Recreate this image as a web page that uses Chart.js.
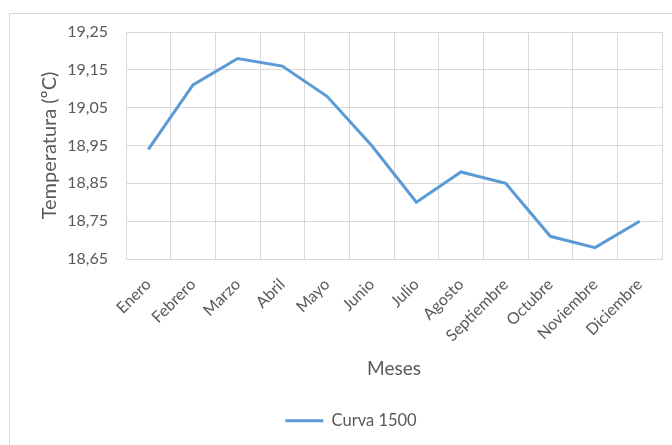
<!DOCTYPE html>
<html>
<head>
<meta charset="utf-8">
<script src="https://cdn.jsdelivr.net/npm/chart.js@4.4.0/dist/chart.umd.min.js"></script>
<style>
    html, body { margin: 0; padding: 0; background: #ffffff; }
    #wrap { position: relative; width: 672px; height: 445px; overflow: hidden; }
    #frame { position: absolute; left: 9px; top: 13px; width: 700px; height: 500px; border: 1px solid #d9d9d9; }
    #grafico { position: absolute; left: 0; top: 0; }
</style>
</head>
<body>
<div id="wrap">
    <div id="frame"></div>
    <canvas id="grafico" width="672" height="445"></canvas>
</div>
<script>
// datos
const meses = ['Enero', 'Febrero', 'Marzo', 'Abril', 'Mayo', 'Junio', 'Julio',
    'Agosto', 'Septiembre', 'Octubre', 'Noviembre', 'Diciembre'];
const curva1500 = [18.94, 19.11, 19.18, 19.16, 19.08, 18.95, 18.80, 18.88, 18.85, 18.71, 18.68, 18.75];
const serieNombre = 'Curva 1500';
const yMin = 18.65;
const yMax = 19.25;
const yPaso = 0.1;

const gris = '#595959';
const rejilla = '#d9d9d9';
const fuente = 'Lato, "Open Sans", sans-serif';

function formatoComa(v) {
    return v.toFixed(2).replace('.', ',');
}

const ctx = document.getElementById('grafico').getContext('2d');
new Chart(ctx, {
    type: 'line',
    data: {
        labels: meses,
        datasets: [{
            label: serieNombre,
            data: curva1500,
            borderColor: '#5b9bd5',
            backgroundColor: '#5b9bd5',
            borderWidth: 3,
            pointRadius: 0,
            tension: 0,
            fill: false
        }]
    },
    options: {
        responsive: false,
        animation: false,
        layout: { padding: { top: 32, right: 10, bottom: 6, left: 40 } },
        scales: {
            x: {
                offset: true,
                grid: { offset: true, color: rejilla, drawTicks: false },
                border: { color: rejilla },
                ticks: {
                    color: gris,
                    font: { family: fuente, size: 16 },
                    minRotation: 45,
                    maxRotation: 45,
                    padding: 16,
                    autoSkip: false
                },
                title: {
                    display: true,
                    text: 'Meses',
                    color: gris,
                    font: { family: fuente, size: 19 },
                    padding: { top: 0, bottom: 22 }
                },
                afterFit: (scale) => { scale.height = 143.5; }
            },
            y: {
                min: yMin,
                max: yMax,
                grid: { color: rejilla, drawTicks: false },
                border: { display: false },
                ticks: {
                    stepSize: yPaso,
                    color: gris,
                    font: { family: fuente, size: 16 },
                    padding: 18,
                    callback: (v) => formatoComa(v)
                },
                title: {
                    display: true,
                    text: 'Temperatura (ºC)',
                    color: gris,
                    font: { family: fuente, size: 20, lineHeight: 1 },
                    padding: { top: 0, bottom: 0 }
                },
                afterFit: (scale) => { scale.width = 86; }
            }
        },
        plugins: {
            legend: {
                position: 'bottom',
                labels: {
                    color: gris,
                    font: { family: fuente, size: 16.5 },
                    usePointStyle: true,
                    pointStyle: 'line',
                    pointStyleWidth: 38,
                    padding: 10
                }
            },
            tooltip: { enabled: false }
        }
    }
});
</script>
</body>
</html>
